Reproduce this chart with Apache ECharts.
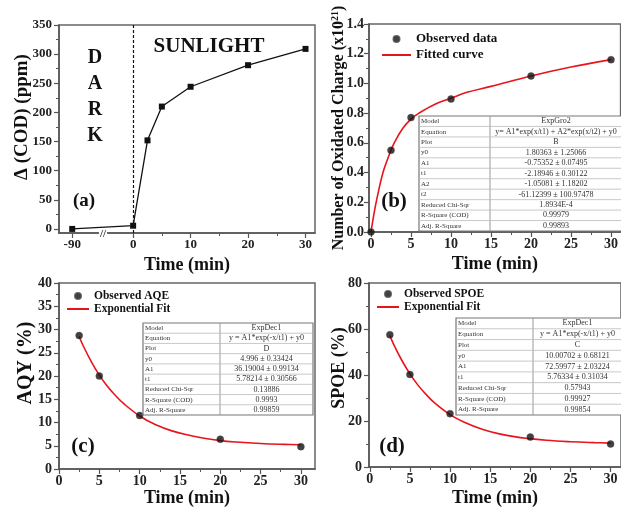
<!DOCTYPE html>
<html>
<head>
<meta charset="utf-8">
<script src="https://cdn.jsdelivr.net/npm/echarts@6/dist/echarts.min.js"></script>
<style>
  html, body { margin: 0; padding: 0; background: #fff; }
  #chart { width: 621px; height: 508px; }
</style>
</head>
<body>
<div id="chart"></div>
<script>
// panel (a): COD change, dark period then sunlight
const timeA = [-90, 0, 2.5, 5, 10, 20, 30];
const codA = [0, 5.5, 152, 210, 244, 281, 309];
const BREAK_SHIFT = 79.4; // -90 drawn just left of the axis break

// panel (b): oxidated charge
const timeB = [0, 2.5, 5, 10, 20, 30];
const chargeObs = [0, 0.55, 0.77, 0.895, 1.05, 1.16];
const fitTimeB = [0, 0.5, 1, 1.5, 2, 2.5, 3, 4, 5, 6, 8, 10, 12, 15, 20, 25, 30];
const chargeFit = [0, 0.16, 0.29, 0.40, 0.48, 0.55, 0.61, 0.70, 0.76, 0.80, 0.86, 0.90, 0.94, 0.98, 1.05, 1.11, 1.16];

// panels (c) and (d)
const timeObs = [2.5, 5, 10, 20, 30];
const aqyObs = [28.7, 20.0, 11.5, 6.4, 4.8];
const spoeObs = [57.5, 40.2, 23.2, 13.0, 10.0];
const fitTimeCD = [2.5, 3, 4, 5, 6, 7, 8, 10, 12, 14, 16, 18, 20, 22, 25, 28, 30];
const aqyFit = [28.5, 26.5, 23.1, 20.2, 17.8, 15.8, 14.1, 11.4, 9.5, 8.2, 7.3, 6.6, 6.1, 5.8, 5.5, 5.3, 5.2];
const spoeFit = [57.1, 53.1, 46.3, 40.5, 35.6, 31.6, 28.1, 22.8, 19.1, 16.4, 14.5, 13.2, 12.3, 11.6, 11.0, 10.6, 10.4];

// tick labels
const ticksTimeA = [-90, 0, 10, 20, 30];
const ticksCod = [0, 50, 100, 150, 200, 250, 300, 350];
const ticksTime = [0, 5, 10, 15, 20, 25, 30];
const ticksCharge = [0, 0.2, 0.4, 0.6, 0.8, 1.0, 1.2, 1.4];
const ticksAqy = [0, 5, 10, 15, 20, 25, 30, 35, 40];
const ticksSpoe = [0, 20, 40, 60, 80];

// fit tables
const tableB = [
  ['Model', 'ExpGro2'],
  ['Equation', 'y= A1*exp(x/t1) + A2*exp(x/t2) + y0'],
  ['Plot', 'B'],
  ['y0', '1.80363 ± 1.25066'],
  ['A1', '-0.75352 ± 0.07495'],
  ['t1', '-2.18946 ± 0.30122'],
  ['A2', '-1.05081 ± 1.18202'],
  ['t2', '-61.12399 ± 100.97478'],
  ['Reduced Chi-Sqr', '1.8934E-4'],
  ['R-Square (COD)', '0.99979'],
  ['Adj. R-Square', '0.99893']
];
const tableC = [
  ['Model', 'ExpDec1'],
  ['Equation', 'y = A1*exp(-x/t1) + y0'],
  ['Plot', 'D'],
  ['y0', '4.996 ± 0.33424'],
  ['A1', '36.19004 ± 0.99134'],
  ['t1', '5.78214 ± 0.30566'],
  ['Reduced Chi-Sqr', '0.13886'],
  ['R-Square (COD)', '0.9993'],
  ['Adj. R-Square', '0.99859']
];
const tableD = [
  ['Model', 'ExpDec1'],
  ['Equation', 'y = A1*exp(-x/t1) + y0'],
  ['Plot', 'C'],
  ['y0', '10.00702 ± 0.68121'],
  ['A1', '72.59977 ± 2.03224'],
  ['t1', '5.76334 ± 0.31034'],
  ['Reduced Chi-Sqr', '0.57943'],
  ['R-Square (COD)', '0.99927'],
  ['Adj. R-Square', '0.99854']
];

const SERIF = '"Liberation Serif", "DejaVu Serif", serif';
const AXIS_COLOR = '#555';
const RED = '#e8141c';

const half = arr => arr.slice(0, -1).map((v, i) => (v + arr[i + 1]) / 2);

// main axis + an invisible twin that only draws minor ticks
function axisPair(gi, min, max, major, minor, o) {
  const pos = o.pos || (v => v);
  const main = {
    type: 'value', gridIndex: gi, min: min, max: max,
    splitLine: { show: false },
    axisLine: { show: true, onZero: false, lineStyle: { color: AXIS_COLOR, width: 1.5 } },
    axisTick: { show: true, length: 5, customValues: major.map(pos), lineStyle: { color: AXIS_COLOR, width: 1.2 } },
    axisLabel: {
      customValues: major.map(pos),
      formatter: o.fmt,
      margin: o.margin,
      fontFamily: SERIF, fontWeight: 'bold', fontSize: o.fs || 14, color: '#222'
    },
    name: o.name, nameLocation: 'middle', nameGap: o.gap, nameMoveOverlap: false,
    nameTextStyle: Object.assign({ fontFamily: SERIF, fontWeight: 'bold', fontSize: 18, color: '#111' }, o.nameStyle || {})
  };
  const sub = {
    type: 'value', gridIndex: gi, min: min, max: max,
    splitLine: { show: false },
    axisLine: { show: false, onZero: false },
    axisLabel: { show: false },
    axisTick: { show: true, length: 3, customValues: minor, lineStyle: { color: AXIS_COLOR, width: 1 } }
  };
  if (o.position) { main.position = o.position; sub.position = o.position; }
  return [main, sub];
}

function tableGraphic(rows, x, y, w, h, split) {
  const rh = h / rows.length;
  const els = [{
    type: 'rect', shape: { x: x, y: y, width: w, height: h },
    style: { fill: '#fff', stroke: '#777', lineWidth: 1.2 }, z: 100
  }, {
    type: 'line', shape: { x1: x + split, y1: y, x2: x + split, y2: y + h },
    style: { stroke: '#999', lineWidth: 1 }, z: 101
  }];
  rows.forEach((r, i) => {
    if (i > 0) {
      els.push({ type: 'line', shape: { x1: x, y1: y + i * rh, x2: x + w, y2: y + i * rh },
        style: { stroke: '#bbb', lineWidth: 0.8 }, z: 101 });
    }
    const cy = y + i * rh + rh / 2;
    els.push({ type: 'text', x: x + 2, y: cy, z: 102,
      style: { text: r[0], font: '7px ' + SERIF, fill: '#333', verticalAlign: 'middle', align: 'left' } });
    els.push({ type: 'text', x: x + split + (w - split) / 2, y: cy, z: 102,
      style: { text: r[1], font: '8px ' + SERIF, fill: '#333', verticalAlign: 'middle', align: 'center' } });
  });
  return els;
}

function label(text, x, y, size) {
  return { type: 'text', x: x, y: y, z: 90,
    style: { text: text, font: 'bold ' + size + 'px ' + SERIF, fill: '#111', align: 'center', verticalAlign: 'middle' } };
}

const posA = t => (t < -50 ? t + BREAK_SHIFT : t);

const xA = axisPair(0, -12.9, 31.65, ticksTimeA, [5, 15, 25], {
  pos: posA, fmt: v => (v < -5 ? String(Math.round(v - BREAK_SHIFT)) : String(v)),
  margin: 5, fs: 13, name: 'Time (min)', gap: 23, position: 'bottom'
});
const yA = axisPair(0, -7, 350, ticksCod, half(ticksCod), {
  margin: 7, fs: 13, name: 'Δ (COD) (ppm)', gap: 27, position: 'left',
  nameStyle: { fontSize: 19, padding: [0, 0, 0, 24] }
});
const xB = axisPair(1, -0.25, 31.2, ticksTime, half(ticksTime), {
  margin: 5, name: 'Time (min)', gap: 23, position: 'bottom'
});
const yB = axisPair(1, 0, 1.4, ticksCharge, half(ticksCharge), {
  fmt: v => v.toFixed(1), margin: 5, name: 'Number of Oxidated Charge (x10{sup|21})', gap: 21, position: 'left',
  nameStyle: { fontSize: 16, rich: { sup: { fontSize: 10, fontWeight: 'bold', fontFamily: SERIF, padding: [0, 0, 8, 0] } } }
});
const xC = axisPair(2, 0, 31.75, ticksTime, half(ticksTime), {
  margin: 5, name: 'Time (min)', gap: 20, position: 'bottom'
});
const yC = axisPair(2, 0, 40, ticksAqy, half(ticksAqy), {
  margin: 7, name: 'AQY (%)', gap: 23, position: 'left',
  nameStyle: { fontSize: 20, padding: [0, 0, 0, 26] }
});
const xD = axisPair(3, -0.1, 31.3, ticksTime, half(ticksTime), {
  margin: 5, name: 'Time (min)', gap: 22, position: 'bottom'
});
const yD = axisPair(3, 0, 80, ticksSpoe, half(ticksSpoe), {
  margin: 7, name: 'SPOE (%)', gap: 21, position: 'left',
  nameStyle: { padding: [0, 0, 0, 14] }
});

const zip = (xs, ys) => xs.map((x, i) => [x, ys[i]]);

const obsStyle = { color: '#111', borderColor: '#444', borderWidth: 0.5 };
const lineLegendItem = name => ({ name: name, itemStyle: { opacity: 0 } });
const legendText = (fs, lh) => ({ fontFamily: SERIF, fontWeight: 'bold', fontSize: fs, lineHeight: lh, color: '#111' });

const option = {
  animation: false,
  backgroundColor: '#fff',
  grid: [
    { left: 59, top: 25, width: 256, height: 208, show: true, borderColor: '#666', borderWidth: 1.5 },
    { left: 369, top: 24, width: 253, height: 208, show: true, borderColor: '#666', borderWidth: 1.5 },
    { left: 59, top: 283, width: 256, height: 190, show: true, borderColor: '#666', borderWidth: 1.5 },
    { left: 369, top: 283, width: 253, height: 190, show: true, borderColor: '#666', borderWidth: 1.5 }
  ],
  xAxis: [].concat(xA, xB, xC, xD),
  yAxis: [].concat(yA, yB, yC, yD),
  legend: [
    { data: ['Observed data', lineLegendItem('Fitted curve')], orient: 'vertical', left: 381, top: 31, padding: 0,
      itemWidth: 29, itemHeight: 6, itemGap: 0, textStyle: legendText(13, 16) },
    { data: ['Observed AQE', lineLegendItem('Exponential Fit')], orient: 'vertical', left: 66, top: 289.5, padding: 0,
      itemWidth: 22, itemHeight: 6, itemGap: 0, textStyle: legendText(11.5, 13) },
    { data: ['Observed SPOE', lineLegendItem('Exponential Fit')], orient: 'vertical', left: 376, top: 287.5, padding: 0,
      itemWidth: 22, itemHeight: 6, itemGap: 0, textStyle: legendText(11.5, 13) }
  ],
  series: [
    {
      name: 'COD', type: 'line', xAxisIndex: 0, yAxisIndex: 0,
      data: zip(timeA.map(posA), codA),
      symbol: 'rect', symbolSize: 6,
      itemStyle: { color: '#111' }, lineStyle: { color: '#111', width: 1.3 },
      markLine: {
        silent: true, symbol: 'none', label: { show: false },
        lineStyle: { color: '#111', type: [3, 2], width: 1.2 },
        data: [{ xAxis: 0 }]
      }
    },
    {
      name: 'Fitted curve', type: 'line', xAxisIndex: 2, yAxisIndex: 2,
      data: zip(fitTimeB, chargeFit), smooth: 0.4, symbol: 'none',
      lineStyle: { color: RED, width: 1.6 }, itemStyle: { color: RED }
    },
    {
      name: 'Observed data', type: 'scatter', xAxisIndex: 2, yAxisIndex: 2,
      data: zip(timeB, chargeObs), symbolSize: 7, itemStyle: obsStyle, z: 5
    },
    {
      name: 'Exponential Fit', type: 'line', xAxisIndex: 4, yAxisIndex: 4,
      data: zip(fitTimeCD, aqyFit), smooth: 0.4, symbol: 'none',
      lineStyle: { color: RED, width: 1.6 }, itemStyle: { color: RED }
    },
    {
      name: 'Observed AQE', type: 'scatter', xAxisIndex: 4, yAxisIndex: 4,
      data: zip(timeObs, aqyObs), symbolSize: 7, itemStyle: obsStyle, z: 5
    },
    {
      name: 'Exponential Fit', type: 'line', xAxisIndex: 6, yAxisIndex: 6,
      data: zip(fitTimeCD, spoeFit), smooth: 0.4, symbol: 'none',
      lineStyle: { color: RED, width: 1.6 }, itemStyle: { color: RED }
    },
    {
      name: 'Observed SPOE', type: 'scatter', xAxisIndex: 6, yAxisIndex: 6,
      data: zip(timeObs, spoeObs), symbolSize: 7, itemStyle: obsStyle, z: 5
    }
  ],
  graphic: [].concat(
    [
      label('D', 95, 58, 20), label('A', 95, 84, 20), label('R', 95, 110, 20), label('K', 95, 136, 20),
      label('SUNLIGHT', 209, 47, 21),
      label('(a)', 84, 201, 19),
      label('(b)', 394, 202, 21),
      label('(c)', 83, 447, 21),
      label('(d)', 392, 447, 21),
      { type: 'text', x: 103, y: 234, z: 95,
        style: { text: '//', font: 'bold 11px ' + SERIF, fill: '#333', align: 'center', verticalAlign: 'middle',
          backgroundColor: '#fff', padding: [0, 1] } }
    ],
    tableGraphic(tableB, 419, 116, 203, 115, 71),
    tableGraphic(tableC, 143, 323, 170, 92, 77),
    tableGraphic(tableD, 456, 318, 166, 97, 77)
  )
};

const chart = echarts.init(document.getElementById('chart'), null, { renderer: 'canvas' });
chart.setOption(option);
</script>
</body>
</html>
